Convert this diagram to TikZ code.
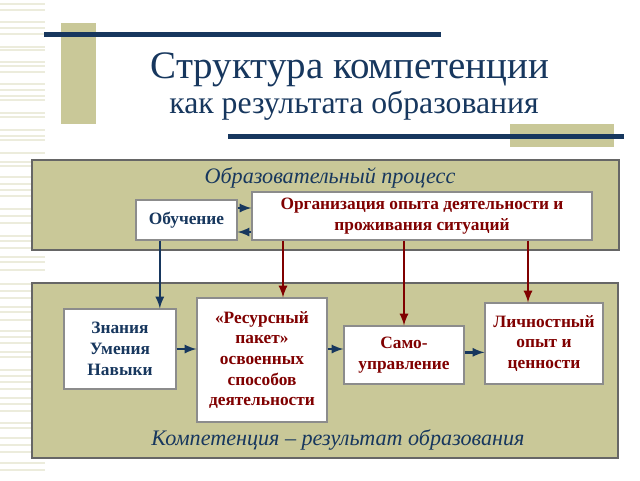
\documentclass[tikz,border=0pt]{standalone}
\usepackage{fontspec}
\setmainfont{Liberation Serif}
\usetikzlibrary{positioning}
\definecolor{khaki}{RGB}{201,200,152}
\definecolor{navy}{RGB}{23,55,94}
\definecolor{darkred}{RGB}{128,0,0}
\definecolor{stripe}{RGB}{236,236,220}
\tikzset{
  panel/.style={draw=black!60,fill=khaki,line width=0.8pt},
  box/.style={draw=black!45,fill=white,line width=0.8pt,align=center,font=\bfseries\fontsize{13}{15.5}\selectfont},
  bluearrow/.style={-latex,draw=navy,line width=2pt},
  redarrow/.style={-latex,draw=darkred,line width=2pt},
  heading/.style={text=navy,font=\itshape\fontsize{16.6}{19}\selectfont}
}
\begin{document}
\begin{tikzpicture}[x=0.75pt,y=-0.75pt]
\useasboundingbox (0,0) rectangle (640,480);
\foreach \y in {4,10,22,28,34,47,50,62,66,72,84,90,96,100,113,117,130,136,140,153,162,166,177,184,190,196,209,216,223,236,241,248,257,262,270,284,291,298,307,312,320,331,337,343,352,357,370,376,382,389,398,404,411,423,428,438,445,452,463,470}
  \draw[stripe,line width=1.2pt] (0,\y)--(45,\y);
% title block
\fill[khaki] (61,23) rectangle (96,124);
\fill[khaki] (510,124) rectangle (614,147);
\fill[navy] (44,32) rectangle (441,37);
\fill[navy] (228,134) rectangle (624,139);
\draw[black!30,line width=0.6pt] (32,159)--(618,159);
\node[text=navy,font=\fontsize{29.2}{31}\selectfont] (title) at (350,70) {Структура компетенции};
\node[text=navy,font=\fontsize{23.8}{26}\selectfont] (subtitle) at (354,106) {как результата образования};
% panels
\draw[panel] (32,160) rectangle (619,250);
\draw[panel] (32,283) rectangle (618,458);
\node[heading] (process) at (330,178) {Образовательный процесс};
\node[heading] (result) at (338,440) {Компетенция -- результат образования};
% boxes
\node[box,text=navy,minimum width=101*0.75pt,minimum height=40*0.75pt] (obuch) at (186.5,220) {Обучение};
\node[box,text=darkred,minimum width=340*0.75pt,minimum height=48*0.75pt] (org) at (422,216) {Организация опыта деятельности и\\проживания ситуаций};
\node[box,text=navy,minimum width=112*0.75pt,minimum height=80*0.75pt] (znan) at (120,349) {Знания\\Умения\\Навыки};
\node[box,text=darkred,minimum width=130*0.75pt,minimum height=124*0.75pt] (resurs) at (262,360) {«Ресурсный\\пакет»\\освоенных\\способов\\деятельности};
\node[box,text=darkred,minimum width=120*0.75pt,minimum height=58*0.75pt] (samo) at (404,355) {Само-\\управление};
\node[box,text=darkred,minimum width=118*0.75pt,minimum height=81*0.75pt] (lichn) at (544,343.5) {Личностный\\опыт и\\ценности};
% connectors
\draw[bluearrow] ([yshift=9pt]obuch.east)--([yshift=9pt]obuch.east -| org.west);
\draw[bluearrow] ([yshift=-9pt]obuch.east -| org.west)--([yshift=-9pt]obuch.east);
\draw[bluearrow] ([xshift=-20pt]obuch.south)--([xshift=-20pt]obuch.south |- znan.north);
\draw[redarrow] (org.south -| 283,0)--(resurs.north -| 283,0);
\draw[redarrow] (org.south -| samo.north)--(samo.north);
\draw[redarrow] (org.south -| 528,0)--(lichn.north -| 528,0);
\draw[bluearrow] (znan.east)--(znan.east -| resurs.west);
\draw[bluearrow] ([yshift=4.5pt]samo.west -| resurs.east)--([yshift=4.5pt]samo.west);
\draw[bluearrow] ([yshift=2pt]samo.east)--([yshift=2pt]samo.east -| lichn.west);
\end{tikzpicture}
\end{document}
